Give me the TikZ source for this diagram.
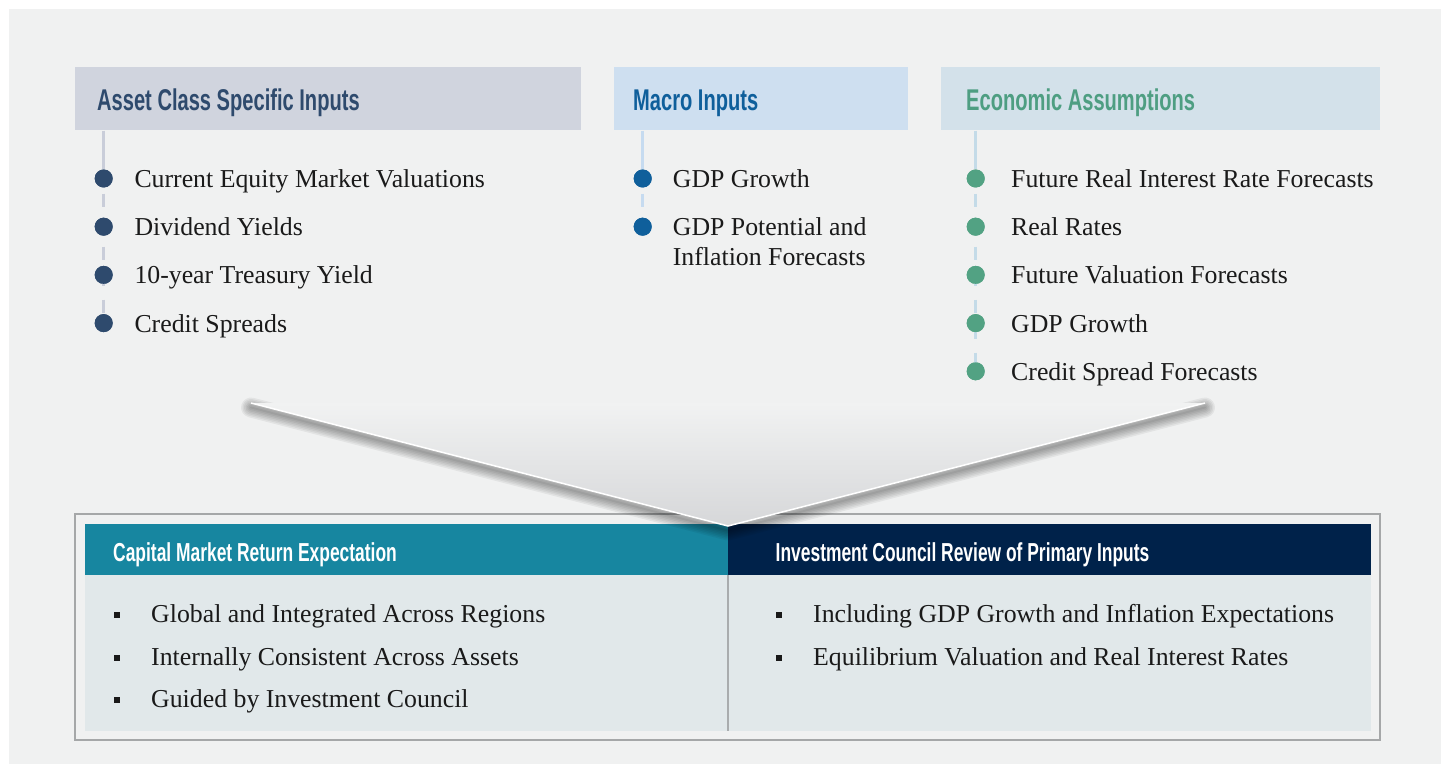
\documentclass[tikz,border=0pt]{standalone}
\usepackage{fontspec}
\setmainfont{Liberation Serif}
\newfontfamily\hdrfont[FakeStretch=0.67]{Liberation Sans}
\definecolor{panel}{HTML}{F0F1F1}
\definecolor{txtcol}{HTML}{1A1A1A}
\definecolor{hAfill}{HTML}{D0D4DE}
\definecolor{hAtxt}{HTML}{2E4A6D}
\definecolor{hAline}{HTML}{C9CDD9}
\definecolor{hBfill}{HTML}{CEDFF0}
\definecolor{hBtxt}{HTML}{0F5F9B}
\definecolor{hBline}{HTML}{C6DBF0}
\definecolor{hCfill}{HTML}{D3E1EA}
\definecolor{hCtxt}{HTML}{4E9E82}
\definecolor{hCdot}{HTML}{52A283}
\definecolor{hCline}{HTML}{C4DBE8}
\definecolor{barteal}{HTML}{1786A0}
\definecolor{barnavy}{HTML}{00224A}
\definecolor{bodyfill}{HTML}{E1E8EA}
\definecolor{bordercol}{HTML}{A5A7A8}
\definecolor{dividercol}{HTML}{A9ACAE}
\definecolor{funtop}{HTML}{F1F2F2}
\definecolor{funbot}{HTML}{D6D7D9}
\begin{document}
\begin{tikzpicture}[x=1pt,y=-1pt,
  bodytxt/.style={font=\fontsize{25.8}{30}\selectfont, text=txtcol, inner sep=0pt, anchor=base west, align=left},
  hdrtxt/.style={font=\hdrfont\bfseries\fontsize{30}{32}\selectfont, text=#1, inner sep=0pt, anchor=base west},
  bartxt/.style={font=\hdrfont\bfseries\fontsize{26}{30}\selectfont, text=white, inner sep=0pt, anchor=base west},
  hdrbox/.style={rectangle, draw=none, inner sep=0pt, minimum height=63.5pt, fill=#1},
  dotnode/.style={circle, inner sep=0pt, minimum size=18pt, fill=#1},
  sqnode/.style={rectangle, inner sep=0pt, minimum size=6pt, fill=black!90},
  leadline/.style={line width=3pt, draw=#1},
  leaddash/.style={line width=3pt, draw=#1, dash pattern=on 13pt off 13.5pt, dash phase=11.3pt},
  panelbox/.style={rectangle, inner sep=0pt, draw=none},
]
\useasboundingbox (0,0) rectangle (1441,773);
\fill[white] (0,0) rectangle (1441,773);
\fill[panel] (9,9) rectangle (1441,764);

% ---------- top headers ----------
\node[hdrbox=hAfill, minimum width=506pt] (h1) at (328,98.75) {};
\node[hdrbox=hBfill, minimum width=293.5pt] (h2) at (760.75,98.75) {};
\node[hdrbox=hCfill, minimum width=439pt] (h3) at (1160.5,98.75) {};
\node[hdrtxt=hAtxt] (h1t) at (97,110.5) {Asset Class Specific Inputs};
\node[hdrtxt=hBtxt] (h2t) at (633,110.5) {Macro Inputs};
\node[hdrtxt=hCtxt] (h3t) at (966,110.5) {Economic Assumptions};

% ---------- bullets ----------
\node[dotnode=hAtxt] (a1) at (103.7,178.5) {};
\node[dotnode=hAtxt] (a2) at (103.7,226.7) {};
\node[dotnode=hAtxt] (a3) at (103.7,274.9) {};
\node[dotnode=hAtxt] (a4) at (103.7,323.1) {};
\node[dotnode=hBtxt] (b1) at (642.7,178.5) {};
\node[dotnode=hBtxt] (b2) at (642.7,226.7) {};
\node[dotnode=hCdot] (c1) at (975.7,178.5) {};
\node[dotnode=hCdot] (c2) at (975.7,226.7) {};
\node[dotnode=hCdot] (c3) at (975.7,274.9) {};
\node[dotnode=hCdot] (c4) at (975.7,323.1) {};
\node[dotnode=hCdot] (c5) at (975.7,371.3) {};

% ---------- connectors ----------
\draw[leadline=hAline] (h1.south -| a1.center) -- (a1.north);
\draw[leaddash=hAline] (a1.center) -- (a4.center);
\draw[leadline=hBline] (h2.south -| b1.center) -- (b1.north);
\draw[leaddash=hBline] (b1.center) -- (b2.center);
\draw[leadline=hCline] (h3.south -| c1.center) -- (c1.north);
\draw[leaddash=hCline] (c1.center) -- (c5.center);
% bullets drawn again above the lines
\foreach \n/\c in {a1/hAtxt,a2/hAtxt,a3/hAtxt,a4/hAtxt,b1/hBtxt,b2/hBtxt,c1/hCdot,c2/hCdot,c3/hCdot,c4/hCdot,c5/hCdot}
  \fill[\c] (\n) circle (9pt);

% ---------- bullet texts ----------
\node[bodytxt] (ta1) at (134.3,187.5) {Current Equity Market Valuations};
\node[bodytxt] (ta2) at (134.3,235.7) {Dividend Yields};
\node[bodytxt] (ta3) at (134.3,283.9) {10-year Treasury Yield};
\node[bodytxt] (ta4) at (134.3,332.1) {Credit Spreads};
\node[bodytxt] (tb1) at (672.7,187.5) {GDP Growth};
\node[bodytxt] (tb2) at (672.7,265.7) {GDP Potential and\\Inflation Forecasts};
\node[bodytxt] (tc1) at (1011,187.5) {Future Real Interest Rate Forecasts};
\node[bodytxt] (tc2) at (1011,235.7) {Real Rates};
\node[bodytxt] (tc3) at (1011,283.9) {Future Valuation Forecasts};
\node[bodytxt] (tc4) at (1011,332.1) {GDP Growth};
\node[bodytxt] (tc5) at (1011,380.3) {Credit Spread Forecasts};

% ---------- bottom box ----------
\node[panelbox, draw=bordercol, line width=2pt, minimum width=1305pt, minimum height=226pt] (outer) at (727.5,627) {};
\node[panelbox, fill=bodyfill, minimum width=1286pt, minimum height=156.5pt] (body) at (728,652.75) {};
\node[panelbox, fill=barteal, minimum width=643pt, minimum height=50.5pt] (bar1) at (406.5,549.25) {};
\node[panelbox, fill=barnavy, minimum width=643pt, minimum height=50.5pt] (bar2) at (1049.5,549.25) {};
\draw[dividercol, line width=2pt] (bar1.south east) -- (bar1.south east |- body.south);

\node[bartxt] (bt1) at (113,561) {Capital Market Return Expectation};
\node[bartxt] (bt2) at (775.5,561) {Investment Council Review of Primary Inputs};

\node[sqnode] (s1) at (117,614.5) {};
\node[sqnode] (s2) at (117,657.5) {};
\node[sqnode] (s3) at (117,699.5) {};
\node[sqnode] (s4) at (779,614.5) {};
\node[sqnode] (s5) at (779,657.5) {};
\node[bodytxt] (u1) at (151,622.5) {Global and Integrated Across Regions};
\node[bodytxt] (u2) at (151,665.5) {Internally Consistent Across Assets};
\node[bodytxt] (u3) at (151,707.5) {Guided by Investment Council};
\node[bodytxt] (u4) at (813,622.5) {Including GDP Growth and Inflation Expectations};
\node[bodytxt] (u5) at (813,665.5) {Equilibrium Valuation and Real Interest Rates};

% ---------- funnel ----------
\coordinate (fl) at (251,403);
\coordinate (fr) at (1205,403);
\coordinate (fa) at (728,526);
\foreach \w in {2,5,8,11,14,17,20}
  \draw[black, opacity=0.055, line width=\w pt, line cap=round, line join=round]
    ([yshift=-4.5pt]fl) -- ([yshift=-4.5pt]fa) -- ([yshift=-4.5pt]fr);
\shade[top color=funtop, bottom color=funbot] (fl) -- (fa) -- (fr) -- cycle;
\draw[white, line width=1.5pt, line join=miter] (fl) -- (fa) -- (fr);
\end{tikzpicture}
\end{document}
